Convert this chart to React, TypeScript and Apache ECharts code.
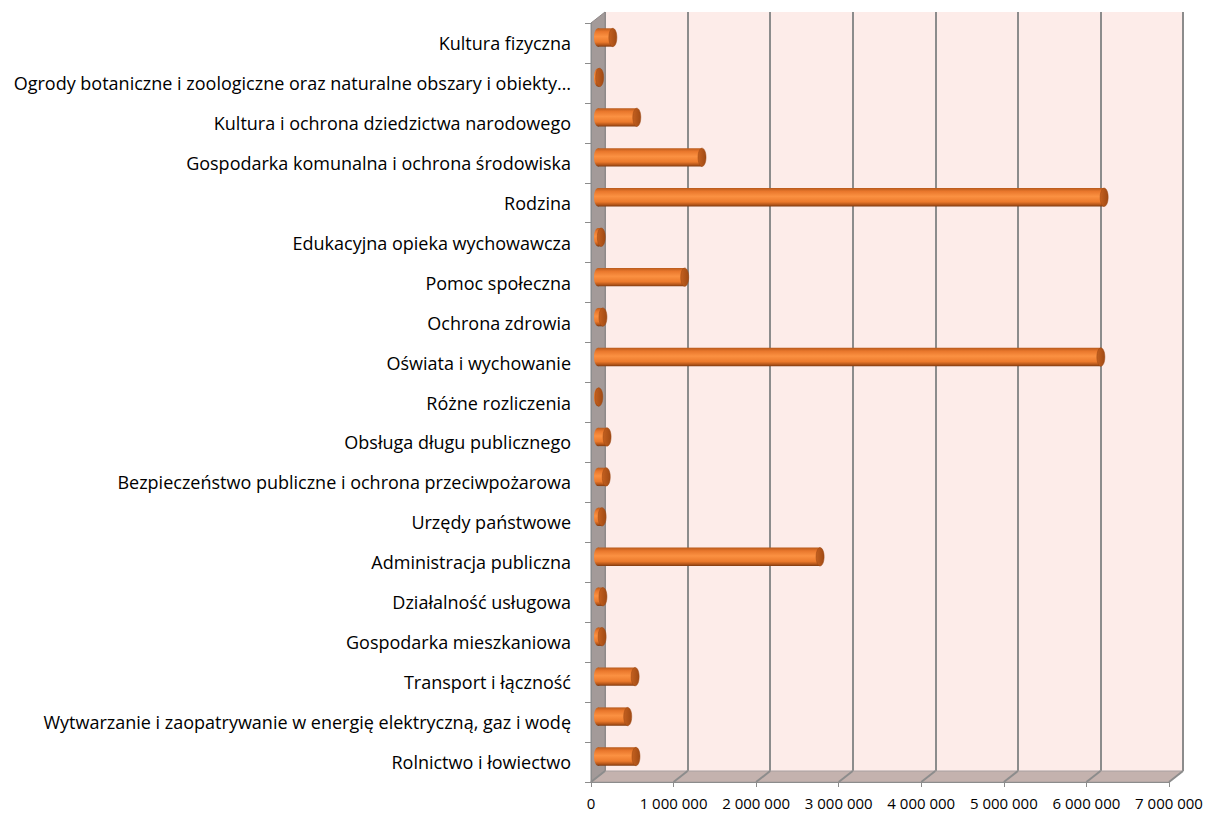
import React, { useEffect, useRef } from "react";
import * as echarts from "echarts";

const categories = [
  "Kultura fizyczna",
  "Ogrody botaniczne i zoologiczne oraz naturalne obszary i obiekty…",
  "Kultura i ochrona dziedzictwa narodowego",
  "Gospodarka komunalna i ochrona środowiska",
  "Rodzina",
  "Edukacyjna opieka wychowawcza",
  "Pomoc społeczna",
  "Ochrona zdrowia",
  "Oświata i wychowanie",
  "Różne rozliczenia",
  "Obsługa długu publicznego",
  "Bezpieczeństwo publiczne i ochrona przeciwpożarowa",
  "Urzędy państwowe",
  "Administracja publiczna",
  "Działalność usługowa",
  "Gospodarka mieszkaniowa",
  "Transport i łączność",
  "Wytwarzanie i zaopatrywanie w energię elektryczną, gaz i wodę",
  "Rolnictwo i łowiectwo",
];

const values = [
  180000, 20000, 470000, 1260000, 6130000, 40000, 1050000, 60000, 6090000, 10000,
  110000, 100000, 50000, 2690000, 60000, 50000, 450000, 360000, 460000,
];

const xTicks = [0, 1000000, 2000000, 3000000, 4000000, 5000000, 6000000, 7000000];

// layout (pixels)
const W = 1208;
const H = 814;
const FRONT = { left: 591, right: 1169, top: 23, bottom: 782 };
const DX = 14;
const DY = -11;
const FONT = "'Open Sans', 'Noto Sans', sans-serif";

export default function App() {
  const ref = useRef<HTMLDivElement>(null);
  useEffect(() => {
    document.body.style.margin = "0";
    if (!ref.current) return;
    const chart = echarts.init(ref.current, null, { renderer: "svg" });
    const xMax = xTicks[xTicks.length - 1];
    const xInt = xTicks[1] - xTicks[0];
    const pxPerUnit = (FRONT.right - FRONT.left) / xMax;

    const mkGrid = (dx: number, dy: number, extra: any = {}) => ({
      left: FRONT.left + dx,
      right: W - (FRONT.right + dx),
      top: FRONT.top + dy,
      bottom: H - (FRONT.bottom + dy),
      containLabel: false,
      ...extra,
    });

    const barGrad = new echarts.graphic.LinearGradient(0, 0, 0, 1, [
      { offset: 0, color: "#b85a1c" },
      { offset: 0.18, color: "#e9772c" },
      { offset: 0.45, color: "#fb9142" },
      { offset: 0.75, color: "#ec7a2c" },
      { offset: 0.9, color: "#b5561a" },
      { offset: 1, color: "#7e3a10" },
    ]);
    const capGrad = new echarts.graphic.LinearGradient(0, 0, 1, 0, [
      { offset: 0, color: "#c4601f" },
      { offset: 1, color: "#a04a14" },
    ]);

    const graphics: any[] = [];
    const fl = FRONT.left, fb = FRONT.bottom, ft = FRONT.top, fr = FRONT.right;
    graphics.push({
      type: "polygon",
      z: 1,
      silent: true,
      shape: { points: [[fl, fb], [fr, fb], [fr + DX, fb + DY], [fl + DX, fb + DY]] },
      style: { fill: "#c4b2ae", stroke: "#a8a0a0", lineWidth: 1 },
    });
    graphics.push({
      type: "polygon",
      z: 1,
      silent: true,
      shape: { points: [[fl, ft], [fl + DX, ft + DY], [fl + DX, fb + DY], [fl, fb]] },
      style: { fill: "#a39a99", stroke: "#8f8888", lineWidth: 1 },
    });
    xTicks.forEach((t) => {
      const x = fl + t * pxPerUnit;
      graphics.push({
        type: "line",
        z: 2,
        silent: true,
        shape: { x1: x, y1: fb, x2: x + DX, y2: fb + DY },
        style: { stroke: "#8c8c8c", lineWidth: 2 },
      });
    });

    const option: any = {
      animation: false,
      backgroundColor: "#ffffff",
      grid: [
        mkGrid(0, 0),
        mkGrid(DX, DY, { show: true, backgroundColor: "#fdece9", borderWidth: 0 }),
        mkGrid(DX / 2, DY / 2),
      ],
      xAxis: [
        {
          gridIndex: 0,
          type: "value",
          min: 0,
          max: xMax,
          interval: xInt,
          axisLine: { show: true, lineStyle: { color: "#8c8c8c", width: 1 } },
          axisTick: { show: true, length: 5, lineStyle: { color: "#8c8c8c" } },
          splitLine: { show: false },
          axisLabel: {
            margin: 13,
            color: "#000",
            fontFamily: FONT,
            fontSize: 15,
            formatter: (v: number) => String(Math.round(v)).replace(/\B(?=(\d{3})+(?!\d))/g, " "),
          },
          z: 5,
        },
        {
          gridIndex: 1,
          type: "value",
          min: 0,
          max: xMax,
          interval: xInt,
          axisLine: { show: false },
          axisTick: { show: false },
          axisLabel: { show: false },
          splitLine: { show: true, lineStyle: { color: "#8c8c8c", width: 2 } },
        },
        {
          gridIndex: 2,
          type: "value",
          min: 0,
          max: xMax,
          interval: xInt,
          show: false,
        },
      ],
      yAxis: [
        {
          gridIndex: 0,
          type: "category",
          data: categories,
          inverse: true,
          axisLine: { show: true, lineStyle: { color: "#8c8c8c" } },
          axisTick: { show: true, length: 6, lineStyle: { color: "#8c8c8c" } },
          axisLabel: {
            margin: 20,
            color: "#000",
            fontFamily: FONT,
            fontSize: 18,
          },
          z: 5,
        },
        {
          gridIndex: 1,
          type: "category",
          data: categories,
          inverse: true,
          show: false,
        },
        {
          gridIndex: 2,
          type: "category",
          data: categories,
          inverse: true,
          show: false,
        },
      ],
      graphic: graphics,
      series: [
        {
          type: "custom",
          xAxisIndex: 2,
          yAxisIndex: 2,
          z: 10,
          encode: { x: 0, y: 1 },
          data: values.map((v, i) => [v, i]),
          renderItem: (params: any, api: any) => {
            const v = api.value(0);
            const ci = api.value(1);
            const s = api.coord([0, ci]);
            const e = api.coord([v, ci]);
            const band = api.size([0, 1])[1];
            const h = band * 0.46;
            const rx = 4;
            const len = Math.max(e[0] - s[0], 0);
            return {
              type: "group",
              children: [
                {
                  type: "ellipse",
                  shape: { cx: s[0], cy: s[1], rx, ry: h / 2 },
                  style: { fill: barGrad },
                },
                {
                  type: "rect",
                  shape: { x: s[0], y: s[1] - h / 2, width: len, height: h },
                  style: { fill: barGrad },
                },
                {
                  type: "ellipse",
                  shape: { cx: s[0] + len, cy: s[1], rx, ry: h / 2 },
                  style: { fill: capGrad, stroke: "#9a4612", lineWidth: 0.5 },
                },
              ],
            };
          },
        },
      ],
    };
    chart.setOption(option);
    return () => chart.dispose();
  }, []);
  return <div ref={ref} style={{ width: W, height: H }} />;
}
